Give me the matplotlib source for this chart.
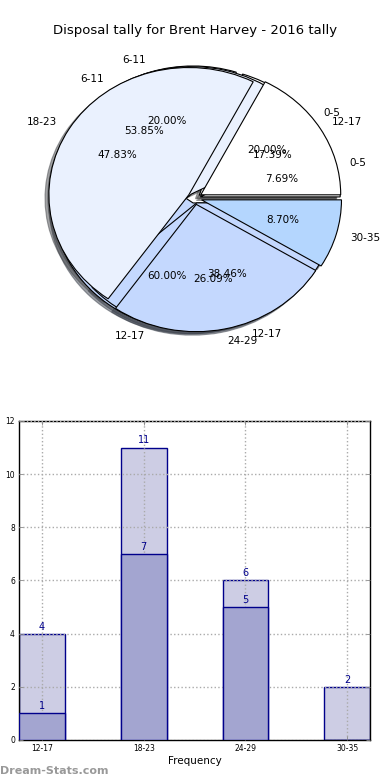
import matplotlib
matplotlib.use("Agg")
import matplotlib.pyplot as plt

# --- dati ---
TITLE = "Disposal tally for Brent Harvey - 2016 tally"

# torta 1 (totale stagione)
pie1_values = [4, 11, 6, 2]
pie1_labels = ["12-17", "18-23", "24-29", "30-35"]
# torta 2
pie2_values = [1, 7, 5]
pie2_labels = ["0-5", "6-11", "12-17"]
# torta 3
pie3_values = [1, 1, 3]
pie3_labels = ["0-5", "6-11", "12-17"]

# barre
categories = ["12-17", "18-23", "24-29", "30-35"]
totals = [4, 11, 6, 2]
subset = [1, 7, 5, 0]
yticks = [0, 2, 4, 6, 8, 10, 12]

pie_colors = ["#ffffff", "#eaf1fe", "#c4d8fe", "#b4d6fe"]
light_bar = "#cdcde4"
dark_bar = "#a3a5d0"
edge = "#00008b"

fig = plt.figure(figsize=(3.9, 7.8), dpi=100)
fig.text(0.5, 0.961, TITLE, ha="center", va="center", fontsize=9.5)

# --- torte sovrapposte ---
ax1 = fig.add_axes([0.051, 0.542, 0.897, 0.408])
for vals, labs, expl in [(pie3_values, pie3_labels, 0.04),
                         (pie2_values, pie2_labels, 0.04),
                         (pie1_values, pie1_labels, 0.05)]:
    wedges, texts, autotexts = ax1.pie(
        vals, labels=labs, colors=pie_colors[:len(vals)],
        explode=[expl] * len(vals), autopct="%.2f%%", shadow=True,
        startangle=0, wedgeprops=dict(edgecolor="black", linewidth=0.8),
        textprops=dict(fontsize=7.5), normalize=True)
ax1.set_aspect("auto")
ax1.set_xlim(-1.25, 1.25)
ax1.set_ylim(-1.25, 1.25)
ax1.axis("off")

# --- barre ---
ax2 = fig.add_axes([0.049, 0.0513, 0.9, 0.409])
x = list(range(len(categories)))
ax2.bar(x, totals, width=0.45, color=light_bar, edgecolor=edge, linewidth=1, zorder=2)
ax2.bar(x, subset, width=0.45, color=dark_bar, edgecolor=edge, linewidth=1, zorder=3)

for xi, v in zip(x, totals):
    if v > 0:
        ax2.text(xi, v + 0.08, str(v), ha="center", va="bottom", color=edge, fontsize=7, zorder=5)
for xi, v in zip(x, subset):
    if v > 0:
        ax2.text(xi, v + 0.08, str(v), ha="center", va="bottom", color=edge, fontsize=7, zorder=5)

ax2.set_xlim(-0.225, 3.225)
ax2.set_ylim(0, 12)
ax2.set_xticks(x)
ax2.set_xticklabels(categories, fontsize=5.5)
ax2.set_yticks(yticks)
ax2.set_yticklabels([str(t) for t in yticks], fontsize=5.5)
ax2.tick_params(direction="in", top=True, right=True, length=3, width=0.6, color="#888888", pad=3)
ax2.grid(True, linestyle=":", color="#aaaaaa", linewidth=1, zorder=4)
ax2.set_axisbelow(False)
ax2.set_xlabel("Frequency", fontsize=7.5, labelpad=2)
ax2.set_ylabel("Stat Total Tally", fontsize=7.5, labelpad=6)
for s in ax2.spines.values():
    s.set_linewidth(1)

fig.text(0.0, 0.012, "Dream-Stats.com", fontsize=8, color="#999999", fontweight="bold",
         ha="left", va="center")

fig.savefig("out.png", dpi=100)
